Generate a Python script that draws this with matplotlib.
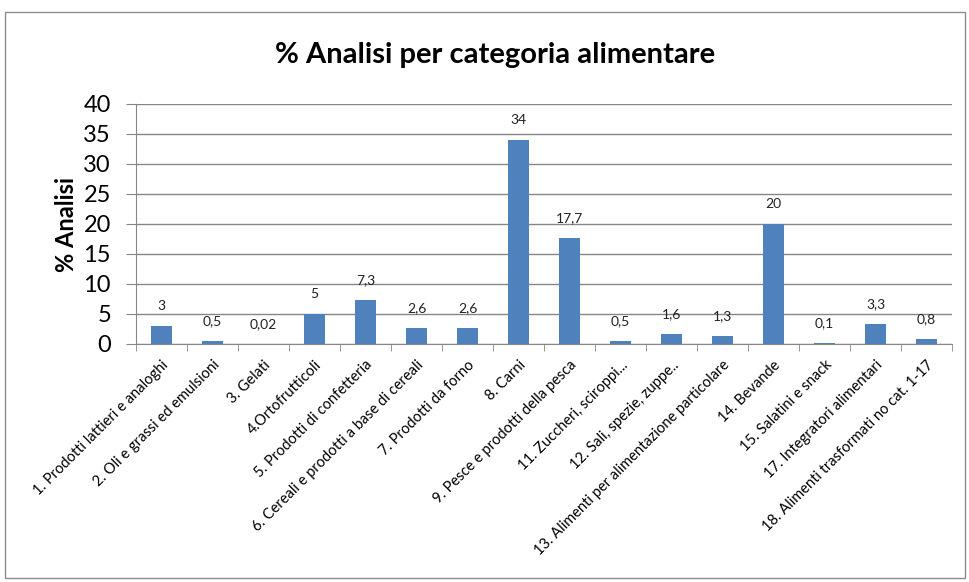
import numpy as np
import matplotlib
matplotlib.use("Agg")
import matplotlib.pyplot as plt
from matplotlib.patches import Rectangle

# ======================
# Data
# ======================
categories = [
    "1. Prodotti lattieri e analoghi",
    "2. Oli e grassi ed emulsioni",
    "3. Gelati",
    "4.Ortofrutticoli",
    "5. Prodotti di confetteria",
    "6. Cereali e prodotti a base di cereali",
    "7. Prodotti da forno",
    "8. Carni",
    "9. Pesce e prodotti della pesca",
    "11. Zuccheri, sciroppi...",
    "12. Sali, spezie, zuppe..",
    "13. Alimenti per alimentazione particolare",
    "14. Bevande",
    "15. Salatini e snack",
    "17. Integratori alimentari",
    "18. Alimenti trasformati no cat. 1-17",
]
values = [3, 0.5, 0.02, 5, 7.3, 2.6, 2.6, 34, 17.7, 0.5, 1.6, 1.3, 20, 0.1, 3.3, 0.8]
value_labels = ["3", "0,5", "0,02", "5", "7,3", "2,6", "2,6", "34", "17,7",
                "0,5", "1,6", "1,3", "20", "0,1", "3,3", "0,8"]
y_ticks = [0, 5, 10, 15, 20, 25, 30, 35, 40]

plt.rcParams["font.family"] = ["Lato", "DejaVu Sans"]
grid_col = "#868686"

fig = plt.figure(figsize=(9.7, 5.82), dpi=100)
fig.patches.append(Rectangle((5 / 970, 4 / 582), 960 / 970, 566 / 582,
                             transform=fig.transFigure, fill=False,
                             edgecolor="#8c8c8c", linewidth=1.0))
ax = fig.add_axes([136 / 970, 238 / 582, 816 / 970, 240 / 582])

x = np.arange(len(categories))
ax.bar(x, values, width=0.4, color="#4F81BD", zorder=3)
for xi, v, lab in zip(x, values, value_labels):
    ax.text(xi, v + 2.3, lab, ha="center", va="bottom", fontsize=10, color="#222222")

ax.set_xlim(-0.5, len(categories) - 0.5)
ax.set_ylim(0, 40)
ax.set_yticks(y_ticks)
ax.tick_params(axis="y", labelsize=17, length=7, color=grid_col, pad=11)
ax.set_xticks(x)
ax.set_xticklabels(categories, rotation=45, ha="right", rotation_mode="anchor",
                   fontsize=10.5)
ax.tick_params(axis="x", length=0, pad=10)
# category boundary ticks
ax.set_xticks(np.arange(-0.5, len(categories)), minor=True)
ax.tick_params(axis="x", which="minor", length=5, color=grid_col)

ax.grid(axis="y", color=grid_col, linewidth=1.0, zorder=0)
for side in ["top", "right"]:
    ax.spines[side].set_visible(False)
for side in ["left", "bottom"]:
    ax.spines[side].set_color(grid_col)

ax.set_ylabel("% Analisi", fontsize=17, fontweight="bold", labelpad=4)
fig.text(495 / 970, 1 - 55 / 582, "% Analisi per categoria alimentare",
         ha="center", va="center", fontsize=21, fontweight="bold")

fig.savefig("out.png", dpi=100)
